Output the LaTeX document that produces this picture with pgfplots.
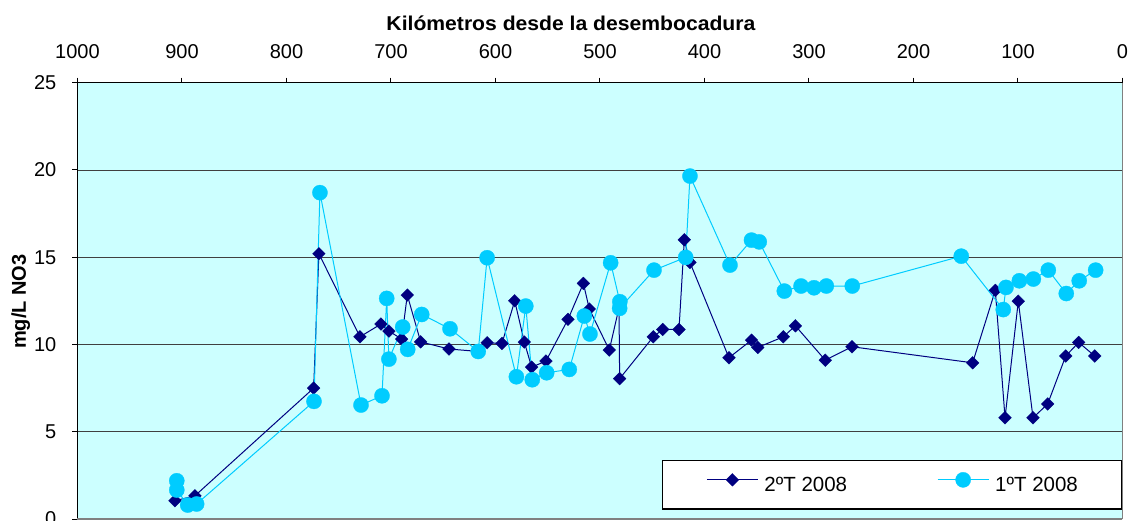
\documentclass[border=0pt]{standalone}
\usepackage{fontspec}
\setmainfont{Liberation Sans}
\usepackage{pgfplots}
\usepackage{pgfplotstable}
\pgfplotsset{compat=1.18}
\definecolor{bgc}{RGB}{204,255,255}
\definecolor{darkser}{RGB}{0,0,128}
\definecolor{lightser}{RGB}{0,204,255}
\pgfplotstableread{
km v
906.7 1.05
887.6 1.33
774 7.5
769 15.2
729.7 10.44
709.6 11.17
702 10.77
689.8 10.31
684.4 12.83
671.6 10.15
644.5 9.74
616.5 9.6
608 10.1
593.8 10.06
581.6 12.5
572.4 10.14
565.4 8.7
551.7 9.05
530.6 11.44
515.9 13.5
510.2 12.03
491.1 9.68
481.8 12.1
481.2 8.04
449 10.44
440 10.86
424.4 10.86
419.3 16.0
413.9 14.7
376.6 9.24
355 10.25
349 9.83
324.6 10.44
313 11.07
284.4 9.1
258.9 9.87
143.4 8.95
121.7 13.1
112.4 5.8
99.7 12.48
85.6 5.8
71.6 6.59
54.3 9.34
41.9 10.12
26.6 9.34
}\segundo
\pgfplotstableread{
km v
905 2.19
905 1.66
894.5 0.8
886 0.86
773.7 6.74
768 18.7
728.7 6.53
708.6 7.06
704.1 12.64
702 9.16
688.8 11.0
684 9.72
670.6 11.72
643.5 10.9
616.5 9.6
608 14.97
580 8.15
571 12.2
564.8 7.98
551 8.38
529.4 8.57
515 11.63
509.6 10.6
489.8 14.68
481 12.45
481.2 12.07
448.3 14.26
418 14.99
413.9 19.65
375.6 14.55
355 15.98
347.6 15.88
323.6 13.06
307.6 13.35
295.2 13.25
283.4 13.35
258.6 13.35
154.3 15.06
114.1 12.0
111.5 13.27
98.7 13.65
85.3 13.75
71 14.26
53.8 12.92
41.4 13.65
25.7 14.26
}\primero
\begin{document}
\begin{tikzpicture}
\path[use as bounding box] (0,0) rectangle (1133bp,521bp);
\begin{axis}[
 at={(600bp,220.15bp)}, anchor=center,
 scale only axis, width=1045bp, height=436.3bp,
 xmin=0, xmax=1000, ymin=0, ymax=25,
 x dir=reverse,
 axis x line*=top, axis y line*=left,
 axis line style={-, black, line width=1.5bp},
 xtick={0,100,...,1000}, ytick={0,5,...,25},
 tick align=outside, major tick length=5bp,
 tick style={black, line width=1bp},
 ymajorgrids, grid style={black!75, line width=0.8bp},
 axis background/.style={fill=bgc},
 tick label style={font=\fontsize{20bp}{24bp}\selectfont},
 xticklabel style={inner sep=0pt, yshift=18.5bp},
 yticklabel style={inner sep=0pt, xshift=-16bp},
 /pgf/number format/assume math mode=true,
 /pgf/number format/1000 sep={},
 clip=false,
 legend columns=2,
 legend cell align=left,
 legend style={at={(axis cs:220.4,1.96)}, anchor=center, draw=black, line width=1.2bp,
   fill=white, inner xsep=44bp, inner ysep=11.7bp,
   font=\fontsize{20.5bp}{24bp}\selectfont,
   nodes={inner sep=0pt, text depth=6bp},
   /tikz/every even column/.append style={column sep=90bp},
   /tikz/every odd column/.append style={column sep=6bp}},
 legend image code/.code={\draw[mark repeat=2,mark phase=2,#1] plot coordinates {(0bp,7.3bp) (25.5bp,7.3bp) (51bp,7.3bp)};},
]
\draw[gray, line width=1.5bp] (axis cs:0,0) -- (axis cs:0,25);
\draw[gray, line width=1.5bp] (axis cs:1000,0) -- (axis cs:0,0);
\addplot[color=darkser, line width=1bp, mark=square*, mark size=4.5bp,
  mark options={rotate=45, fill=darkser, draw=darkser, line width=0.3bp}] table[x=km,y=v] {\segundo};
\addlegendentry{2ºT 2008}
\addplot[color=lightser, line width=1bp, mark=*, mark size=7.6bp,
  mark options={fill=lightser, draw=lightser, line width=0.3bp}] table[x=km,y=v] {\primero};
\addlegendentry{1ºT 2008}
\node[font=\fontsize{20bp}{24bp}\selectfont\bfseries, anchor=base] at (axis cs:527.8,28.0) {\scalebox{1.057}[1]{Kilómetros desde la desembocadura}};
\node[font=\fontsize{20bp}{24bp}\selectfont\bfseries, rotate=90, anchor=base] at (axis cs:1049.3,12.45) {mg/L NO3};
\end{axis}
\end{tikzpicture}
\end{document}
